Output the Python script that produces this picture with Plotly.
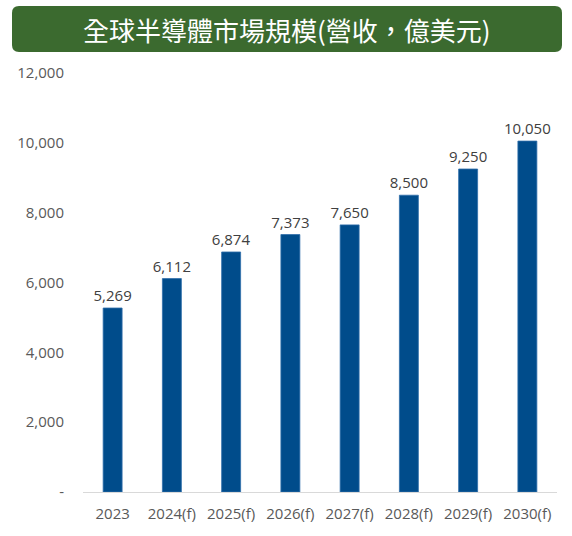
import plotly.graph_objects as go

categories = ["2023", "2024(f)", "2025(f)", "2026(f)", "2027(f)", "2028(f)", "2029(f)", "2030(f)"]
values = [5269, 6112, 6874, 7373, 7650, 8500, 9250, 10050]
tick_vals = [0, 2000, 4000, 6000, 8000, 10000, 12000]
tick_text = ["-", "2,000", "4,000", "6,000", "8,000", "10,000", "12,000"]
title_text = "全球半導體市場規模(營收，億美元)"

W, H = 572, 536
L, R, T, B = 83, 15, 73, 44
pw, ph = W - L - R, H - T - B

def px(x):
    return (x - L) / pw

def py(y):
    return (H - B - y) / ph

# rounded rect path for title box
x0, x1, y0, y1, r = 12, 562, 6, 52, 7
pts = [
    f"M {px(x0 + r)},{py(y0)}",
    f"L {px(x1 - r)},{py(y0)}",
    f"Q {px(x1)},{py(y0)} {px(x1)},{py(y0 + r)}",
    f"L {px(x1)},{py(y1 - r)}",
    f"Q {px(x1)},{py(y1)} {px(x1 - r)},{py(y1)}",
    f"L {px(x0 + r)},{py(y1)}",
    f"Q {px(x0)},{py(y1)} {px(x0)},{py(y1 - r)}",
    f"L {px(x0)},{py(y0 + r)}",
    f"Q {px(x0)},{py(y0)} {px(x0 + r)},{py(y0)}",
    "Z",
]

fig = go.Figure(go.Bar(
    x=categories, y=values,
    marker=dict(color="#004C8B", line=dict(width=0.8, color="#2E6DAA")),
    text=[f"{v:,}" for v in values],
    textposition="outside",
    constraintext="none",
    textfont=dict(size=15, color="#404040", family="Open Sans"),
    cliponaxis=False,
))

fig.update_layout(
    width=W, height=H,
    margin=dict(l=L, r=R, t=T, b=B),
    paper_bgcolor="white", plot_bgcolor="white",
    bargap=0.68,
    showlegend=False,
    font=dict(family="Open Sans", color="#595959", size=15),
    xaxis=dict(showline=True, linecolor="#D9D9D9", linewidth=1, ticks="",
               ticklabelstandoff=8,
               tickfont=dict(size=15, color="#595959"), showgrid=False),
    yaxis=dict(range=[0, 12000], tickvals=tick_vals, ticktext=tick_text,
               showgrid=False, zeroline=False, showline=False, ticks="",
               ticklabelstandoff=18,
               tickfont=dict(size=15, color="#595959")),
    shapes=[dict(type="path", path=" ".join(pts), xref="paper", yref="paper",
                 fillcolor="#3B6A2F", line=dict(width=0), layer="above")],
    annotations=[dict(text=title_text, xref="paper", yref="paper",
                      x=px(287), y=py(29), showarrow=False,
                      xanchor="center", yanchor="middle",
                      font=dict(size=26, color="white", family="Noto Sans CJK TC"))],
)

fig.write_html("out.html", config={"displayModeBar": False},
               post_script="document.body.style.margin='0';document.body.style.overflow='hidden';")
